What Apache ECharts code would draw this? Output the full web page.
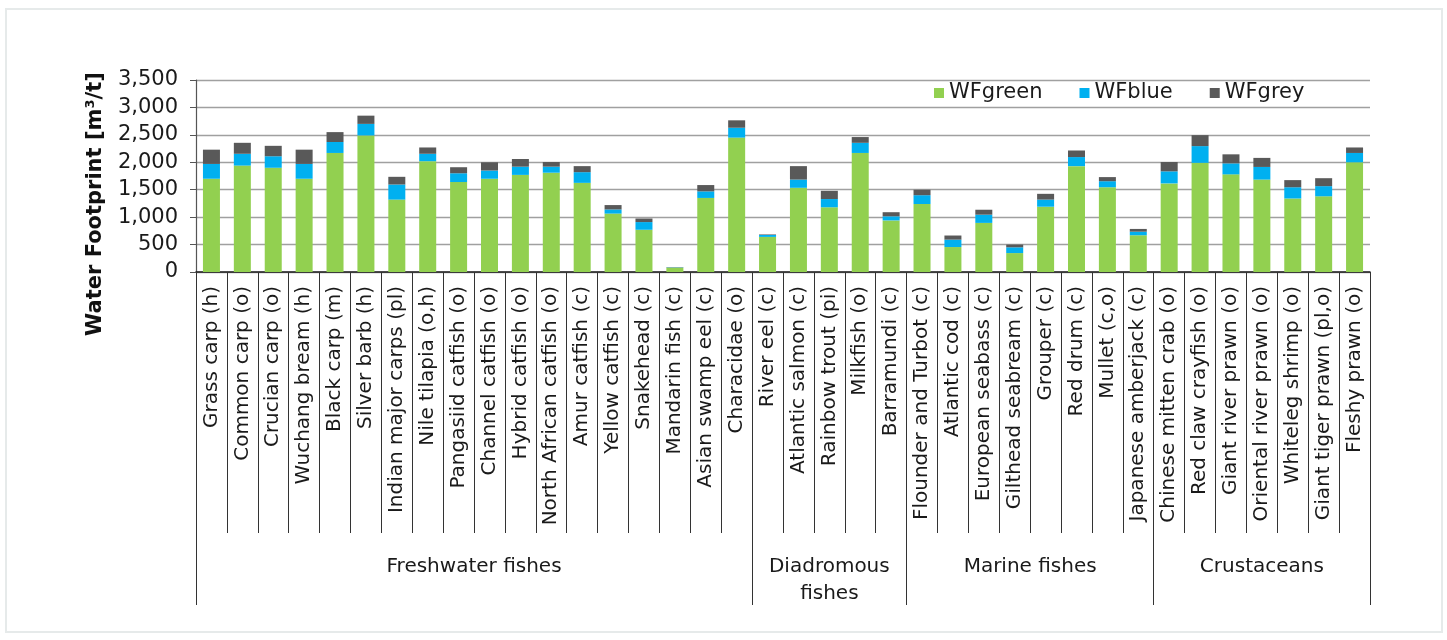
<!DOCTYPE html>
<html>
<head>
<meta charset="utf-8">
<title>Water Footprint of aquaculture species</title>
<script src="https://cdn.jsdelivr.net/npm/echarts@6/dist/echarts.min.js"></script>
<style>
  html, body { margin: 0; padding: 0; background: #ffffff; }
  #chart { width: 1447px; height: 640px; }
</style>
</head>
<body>
<div id="chart"></div>
<script>
// Species (with feeding habit codes) in display order
const categories = [
  'Grass carp (h)', 'Common carp (o)', 'Crucian carp (o)', 'Wuchang bream (h)', 'Black carp (m)',
  'Silver barb (h)', 'Indian major carps (pl)', 'Nile tilapia (o,h)', 'Pangasiid catfish (o)',
  'Channel catfish (o)', 'Hybrid catfish (o)', 'North African catfish (o)', 'Amur catfish (c)',
  'Yellow catfish (c)', 'Snakehead (c)', 'Mandarin fish (c)', 'Asian swamp eel (c)', 'Characidae (o)',
  'River eel (c)', 'Atlantic salmon (c)', 'Rainbow trout (pi)', 'Milkfish (o)', 'Barramundi (c)',
  'Flounder and Turbot (c)', 'Atlantic cod (c)', 'European seabass (c)', 'Gilthead seabream (c)',
  'Grouper (c)', 'Red drum (c)', 'Mullet (c,o)', 'Japanese amberjack (c)',
  'Chinese mitten crab (o)', 'Red claw crayfish (o)', 'Giant river prawn (o)', 'Oriental river prawn (o)',
  'Whiteleg shrimp (o)', 'Giant tiger prawn (pl,o)', 'Fleshy prawn (o)'
];

// Species groups and how many species each covers
const groupNames = ['Freshwater fishes', 'Diadromous\nfishes', 'Marine fishes', 'Crustaceans'];
const groupSizes = [18, 5, 8, 7];

// Water footprint components, m3 per tonne
const wfGreen = [1700, 1940, 1900, 1700, 2170, 2490, 1320, 2020, 1640, 1700, 1770, 1810, 1625, 1065, 770, 80, 1350, 2450,
                 640, 1535, 1180, 2170, 940,
                 1240, 455, 895, 345, 1190, 1930, 1545, 670,
                 1615, 1990, 1780, 1685, 1340, 1380, 2000];
const wfBlue  = [270, 215, 210, 270, 200, 210, 275, 135, 160, 150, 150, 110, 195, 75, 140, 5, 120, 180,
                 35, 150, 150, 185, 75,
                 160, 135, 150, 105, 130, 165, 110, 65,
                 220, 305, 200, 230, 205, 185, 170];
const wfGrey  = [260, 200, 190, 260, 180, 150, 140, 115, 110, 150, 140, 85, 110, 80, 65, 5, 115, 135,
                 10, 245, 150, 105, 75,
                 100, 75, 90, 50, 105, 120, 75, 50,
                 170, 200, 165, 165, 130, 145, 100];

// Y axis ticks
const yTicks = [0, 500, 1000, 1500, 2000, 2500, 3000, 3500];

// Group boundaries and centres on a 0..N scale
const groupBounds = [0];
groupSizes.forEach(n => groupBounds.push(groupBounds[groupBounds.length - 1] + n));
const groupCentres = groupSizes.map((n, i) => groupBounds[i] + n / 2);

const FONT = 'DejaVu Sans';

const chart = echarts.init(document.getElementById('chart'), null, { renderer: 'canvas' });

function barSeries(name, data, color) {
  return {
    name: name,
    type: 'bar',
    stack: 'wf',
    xAxisIndex: 0,
    barWidth: 17,
    data: data,
    itemStyle: { color: color },
    emphasis: { disabled: true }
  };
}

chart.setOption({
  animation: false,
  backgroundColor: '#ffffff',
  grid: { left: 196, right: 77, top: 80, bottom: 368, containLabel: false },
  legend: {
    data: ['WFgreen', 'WFblue', 'WFgrey'],
    left: 934,
    top: 82,
    icon: 'rect',
    itemWidth: 10,
    itemHeight: 10,
    itemGap: 37,
    padding: 0,
    textStyle: { fontFamily: FONT, fontSize: 21, color: '#1a1a1a', lineHeight: 22 }
  },
  xAxis: [
    {
      type: 'category',
      data: categories,
      position: 'bottom',
      axisLine: { show: true, lineStyle: { color: '#1a1a1a', width: 1.5 } },
      axisTick: { show: true, alignWithLabel: false, length: 261, lineStyle: { color: '#333', width: 1 } },
      axisLabel: {
        interval: 0,
        rotate: 90,
        margin: 14,
        fontFamily: FONT,
        fontSize: 20,
        color: '#1a1a1a'
      },
      splitLine: { show: false }
    },
    {
      type: 'value',
      min: 0,
      max: categories.length,
      position: 'bottom',
      offset: 261,
      axisLine: { show: false },
      axisTick: {
        show: true,
        inside: false,
        length: 72,
        customValues: groupBounds,
        lineStyle: { color: '#333', width: 1 }
      },
      axisLabel: {
        show: true,
        customValues: groupCentres,
        margin: 20,
        verticalAlign: 'top',
        fontFamily: FONT,
        fontSize: 20,
        lineHeight: 27,
        color: '#1a1a1a',
        formatter: function (v) {
          const i = groupCentres.findIndex(c => Math.abs(c - v) < 1e-6);
          return i >= 0 ? groupNames[i] : '';
        }
      },
      splitLine: { show: false }
    }
  ],
  yAxis: {
    type: 'value',
    min: yTicks[0],
    max: yTicks[yTicks.length - 1],
    interval: yTicks[1] - yTicks[0],
    axisLine: { show: true, lineStyle: { color: '#555', width: 1.2 } },
    axisTick: { show: true, length: 6, lineStyle: { color: '#555' } },
    axisLabel: {
      margin: 18,
      fontFamily: FONT,
      fontSize: 21,
      color: '#1a1a1a',
      formatter: v => v.toLocaleString('en-US')
    },
    splitLine: { show: true, lineStyle: { color: '#a0a0a0', width: 1.3 } }
  },
  graphic: [
    {
      type: 'rect',
      silent: true,
      z: -10,
      shape: { x: 6, y: 9, width: 1436, height: 623 },
      style: { fill: 'none', stroke: '#e6eaea', lineWidth: 2 }
    },
    {
      type: 'text',
      silent: true,
      x: 96,
      y: 204,
      rotation: Math.PI / 2,
      style: {
        text: 'Water Footprint [m³/t]',
        fontFamily: FONT,
        fontWeight: 'bold',
        fontSize: 21,
        fill: '#111',
        align: 'center',
        verticalAlign: 'middle'
      }
    }
  ],
  series: [
    barSeries('WFgreen', wfGreen, '#92d050'),
    barSeries('WFblue', wfBlue, '#00b0f0'),
    barSeries('WFgrey', wfGrey, '#595959')
  ]
});
</script>
</body>
</html>
